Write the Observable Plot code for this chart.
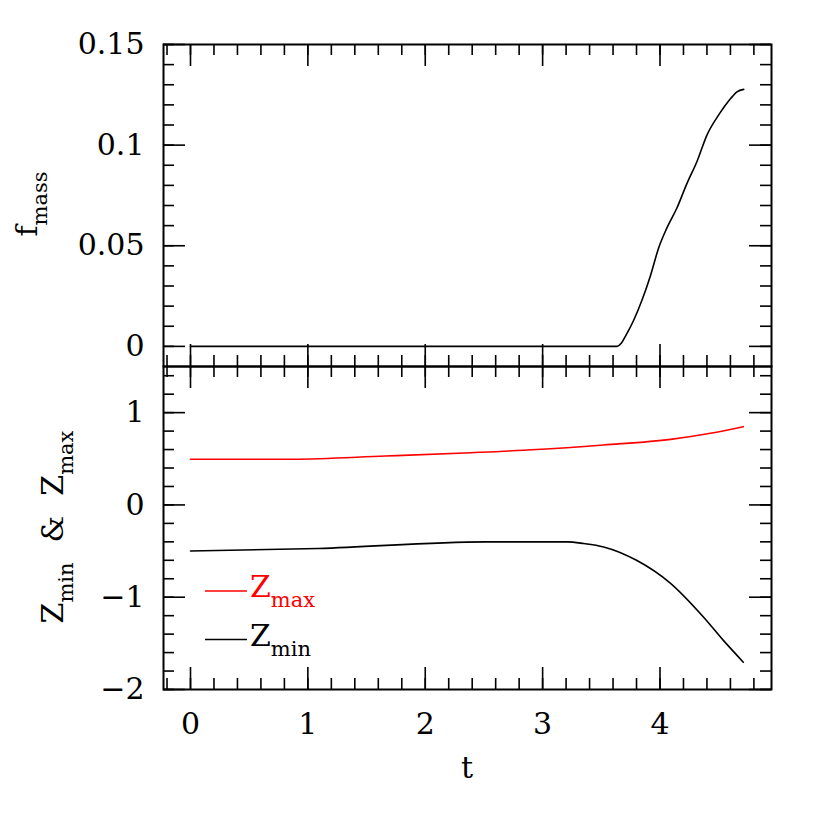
<!DOCTYPE html>
<html><head><meta charset="utf-8">
<script src="https://cdn.jsdelivr.net/npm/d3@7"></script>
<script src="https://cdn.jsdelivr.net/npm/@observablehq/plot@0.6"></script>
<style>
body{margin:0;background:#fff;}
#chart{position:relative;width:814px;height:814px;background:#fff;}
#chart svg{position:absolute;left:0;top:0;}
</style></head><body><div id="chart"></div>
<script>
// ---- data ----
const tMass = [0, 0.5, 1, 1.5, 2, 2.5, 3, 3.5, 3.634, 3.67, 3.705, 3.776, 3.847, 3.918, 3.989, 4.06, 4.146, 4.23, 4.316, 4.40, 4.50, 4.60, 4.656, 4.713];
const fMass = [0, 0, 0, 0, 0, 0, 0, 0, 0, 0.0015, 0.005, 0.013, 0.023, 0.035, 0.049, 0.059, 0.069, 0.081, 0.092, 0.105, 0.115, 0.123, 0.1265, 0.1277];
const tZmax = [0, 0.87, 1.66, 2.39, 2.95, 3.52, 4.09, 4.43, 4.71];
const zMax  = [0.495, 0.495, 0.53, 0.566, 0.60, 0.65, 0.71, 0.776, 0.848];
const tZmin = [0, 1.09, 2.51, 2.67, 3.21, 3.35, 3.52, 3.80, 4.09, 4.37, 4.54, 4.71];
const zMin  = [-0.50, -0.472, -0.40, -0.40, -0.40, -0.418, -0.455, -0.60, -0.85, -1.215, -1.468, -1.704];

const xTicks = [0, 1, 2, 3, 4];
const fTicks = [0, 0.05, 0.1, 0.15];
const zTicks = [-2, -1, 0, 1];
const xMinor = d3.range(-0.2, 4.81, 0.2);
const fMinor = d3.range(0, 0.151, 0.01);
const zMinor = d3.range(-2, 1.41, 0.2);

const massData = tMass.map((t, i) => ({t, v: fMass[i]}));
const zmaxData = tZmax.map((t, i) => ({t, v: zMax[i]}));
const zminData = tZmin.map((t, i) => ({t, v: zMin[i]}));

// ---- layout ----
const W = 814, H = 814, L = 163, R = 771, T = 44, MID = 366, B = 689;
const FW = R - L;
const FONT = "'DejaVu Serif', serif";
const MAJ = 22, MIN = 11;

function frameTicks(fh) {
  const s = {stroke: "black", strokeWidth: 1.6};
  return [
    Plot.tickX(xTicks, {x: d => d, insetBottom: fh - MAJ, ...s}),
    Plot.tickX(xTicks, {x: d => d, insetTop: fh - MAJ, ...s}),
    Plot.tickX(xMinor, {x: d => d, insetBottom: fh - MIN, ...s}),
    Plot.tickX(xMinor, {x: d => d, insetTop: fh - MIN, ...s})
  ];
}
function yFrameTicks(maj, min) {
  const s = {stroke: "black", strokeWidth: 1.6};
  return [
    Plot.tickY(maj, {y: d => d, insetRight: FW - MAJ, ...s}),
    Plot.tickY(maj, {y: d => d, insetLeft: FW - MAJ, ...s}),
    Plot.tickY(min, {y: d => d, insetRight: FW - MIN, ...s}),
    Plot.tickY(min, {y: d => d, insetLeft: FW - MIN, ...s})
  ];
}
const fmt = d => d < 0 ? "\u2212" + (-d) : String(d);
const plotStyle = {background: "transparent", fontFamily: FONT, fontSize: "30px", color: "black", overflow: "visible"};
const xDomain = [-0.23, 4.95];

const topPlot = Plot.plot({
  width: W, height: H,
  marginTop: T, marginBottom: H - MID, marginLeft: L, marginRight: W - R,
  style: plotStyle,
  x: {domain: xDomain, axis: null},
  y: {domain: [-0.01, 0.15], ticks: fTicks, tickSize: 0, tickPadding: 19, tickFormat: fmt, label: null},
  marks: [
    ...frameTicks(MID - T),
    ...yFrameTicks(fTicks, fMinor),
    Plot.line(massData, {x: "t", y: "v", stroke: "black", strokeWidth: 1.6, curve: "monotone-x"}),
    Plot.frame({stroke: "black", strokeWidth: 2})
  ]
});

const bottomPlot = Plot.plot({
  width: W, height: H,
  marginTop: MID, marginBottom: H - B, marginLeft: L, marginRight: W - R,
  style: plotStyle,
  x: {domain: xDomain, ticks: xTicks, tickSize: 0, tickPadding: 23, tickFormat: fmt, label: null},
  y: {domain: [-2, 1.5], ticks: zTicks, tickSize: 0, tickPadding: 19, tickFormat: fmt, label: null},
  marks: [
    ...frameTicks(B - MID),
    ...yFrameTicks(zTicks, zMinor),
    Plot.line(zmaxData, {x: "t", y: "v", stroke: "#ff0000", strokeWidth: 1.6, curve: "monotone-x"}),
    Plot.line(zminData, {x: "t", y: "v", stroke: "black", strokeWidth: 1.6, curve: "monotone-x"}),
    Plot.frame({stroke: "black", strokeWidth: 2})
  ]
});

const chart = document.getElementById("chart");
chart.appendChild(topPlot);
chart.appendChild(bottomPlot);

// ---- labels and legend ----
const svg = d3.select(chart).append("svg").attr("width", W).attr("height", H)
  .style("font-family", FONT).style("overflow", "visible");

function subText(g, parts, opts) {
  const t = g.append("text").attr("font-size", 30).attr("fill", opts.fill || "black")
    .attr("text-anchor", opts.anchor || "start")
    .attr("transform", opts.transform);
  let shifted = false;
  parts.forEach(p => {
    const ts = t.append("tspan").text(p.text);
    if (p.sub) { ts.attr("font-size", 21).attr("dy", 10); shifted = true; }
    else if (shifted) { ts.attr("dy", -10); shifted = false; }
    if (p.dx) ts.attr("dx", p.dx);
  });
  return t;
}

subText(svg, [{text: "f"}, {text: "mass", sub: true}], {anchor: "middle", transform: "translate(37,204) rotate(-90)"});
subText(svg, [{text: "Z"}, {text: "min", sub: true}, {text: "&", dx: 20}, {text: "Z", dx: 20}, {text: "max", sub: true}],
  {anchor: "middle", transform: "translate(63,527) rotate(-90)"});
svg.append("text").attr("x", 467).attr("y", 778).attr("font-size", 30).attr("text-anchor", "middle").text("t");

// legend
svg.append("line").attr("x1", 205).attr("x2", 247).attr("y1", 591).attr("y2", 591).attr("stroke", "#ff0000").attr("stroke-width", 1.6);
subText(svg, [{text: "Z"}, {text: "max", sub: true}], {fill: "#ff0000", transform: "translate(250,597)"});
svg.append("line").attr("x1", 205).attr("x2", 247).attr("y1", 639.5).attr("y2", 639.5).attr("stroke", "black").attr("stroke-width", 1.6);
subText(svg, [{text: "Z"}, {text: "min", sub: true}], {transform: "translate(250,646)"});
</script>
</body></html>
